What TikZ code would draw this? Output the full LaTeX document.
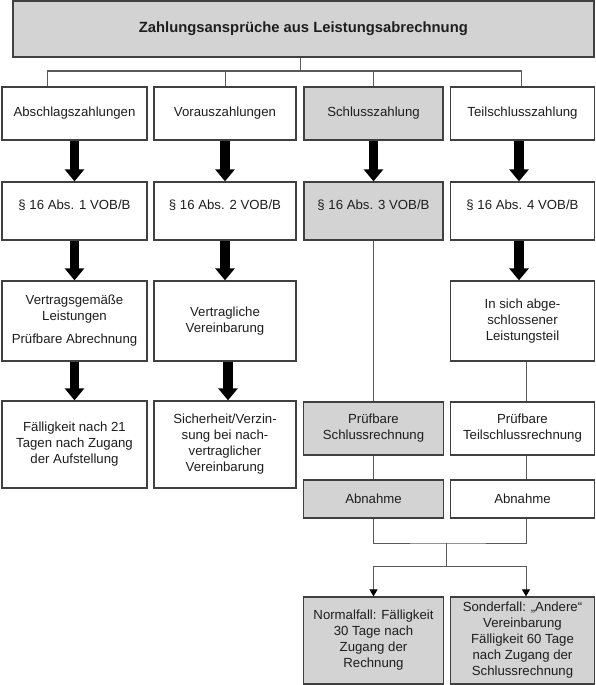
\documentclass[tikz,border=0pt]{standalone}
\usepackage{fontspec}
\setmainfont{Liberation Sans}
\usetikzlibrary{arrows.meta}
\definecolor{boxfill}{RGB}{211,211,212}
\definecolor{boxline}{RGB}{64,64,64}
\definecolor{connline}{RGB}{90,90,90}
\definecolor{txt}{RGB}{30,30,30}
\begin{document}
\begin{tikzpicture}[x=1pt,y=-1pt,
  box/.style={draw=boxline,line width=1.3pt,fill=white,inner sep=0pt,align=center,
    text=txt,font=\fontsize{13.2}{16}\selectfont},
  grey/.style={box,fill=boxfill},
  raised/.style={text height=9.6pt,text depth=12pt},
  conn/.style={draw=connline,line width=1pt},
  bigarrow/.style={draw=black,line width=9.5pt,-{Triangle[length=12pt,width=19pt]}},
  smallarrow/.style={conn,-{Triangle[length=7pt,width=8pt,color=black]}}
]
\useasboundingbox[fill=white] (0,0) rectangle (596,685);

% top
\node[grey,minimum width=581pt,minimum height=56pt,font=\fontsize{14.8}{17}\selectfont\bfseries] (top) at (303.4,29) {Zahlungsansprüche aus Leistungsabrechnung};

% row 1
\node[box,minimum width=145pt,minimum height=53pt] (r1c1) at (74.5,113.5) {Abschlagszahlungen};
\node[box,minimum width=142pt,minimum height=53pt] (r1c2) at (225,113.5) {Vorauszahlungen};
\node[grey,minimum width=139pt,minimum height=53pt] (r1c3) at (373.5,113.5) {Schlusszahlung};
\node[box,minimum width=144pt,minimum height=53pt] (r1c4) at (522.5,113.5) {Teilschlusszahlung};

% row 2
\node[box,raised,minimum width=145pt,minimum height=58pt] (r2c1) at (74.5,211) {§ 16 Abs. 1 VOB/B};
\node[box,raised,minimum width=142pt,minimum height=58pt] (r2c2) at (225,211) {§ 16 Abs. 2 VOB/B};
\node[grey,raised,minimum width=139pt,minimum height=58pt] (r2c3) at (373.5,211) {§ 16 Abs. 3 VOB/B};
\node[box,raised,minimum width=144pt,minimum height=58pt] (r2c4) at (522.5,211) {§ 16 Abs. 4 VOB/B};

% row 3
\node[box,minimum width=145pt,minimum height=80pt] (r3c1) at (74.5,321) {Vertragsgemäße\\Leistungen\\[7pt]Prüfbare Abrechnung};
\node[box,minimum width=142pt,minimum height=80pt] (r3c2) at (225,321) {Vertragliche\\Vereinbarung};
\node[box,minimum width=144pt,minimum height=80pt] (r3c4) at (522.5,321) {In sich abge-\\schlossener\\Leistungsteil};

% row 4
\node[box,minimum width=145pt,minimum height=87pt] (r4c1) at (74.5,444.5) {Fälligkeit nach 21\\Tagen nach Zugang\\der Aufstellung};
\node[box,minimum width=142pt,minimum height=87pt] (r4c2) at (225,444.5) {Sicherheit/Verzin-\\sung bei nach-\\vertraglicher\\Vereinbarung};
\node[grey,minimum width=140pt,minimum height=53pt] (p3) at (373.5,428.5) {Prüfbare\\Schlussrechnung};
\node[box,minimum width=144pt,minimum height=53pt] (p4) at (522.5,428.5) {Prüfbare\\Teilschlussrechnung};

% Abnahme
\node[grey,minimum width=140pt,minimum height=38pt] (a3) at (373.5,499) {Abnahme};
\node[box,minimum width=144pt,minimum height=38pt] (a4) at (522.5,499) {Abnahme};

% bottom
\node[grey,minimum width=140pt,minimum height=87pt] (b3) at (373.5,640.5) {Normalfall: Fälligkeit\\30 Tage nach\\Zugang der\\Rechnung};
\node[grey,minimum width=144pt,minimum height=87pt] (b4) at (522.5,640.5) {Sonderfall: „Andere“\\Vereinbarung\\Fälligkeit 60 Tage\\nach Zugang der\\Schlussrechnung};

% top tree
\coordinate (j0) at (300,71);
\draw[conn] (top.south -| j0) -- (j0);
\draw[conn] ([xshift=-26.8pt]r1c1.north) |- (j0) -| ([xshift=-1.5pt]r1c4.north);
\draw[conn] (r1c2.north) -- (r1c2.north |- j0);
\draw[conn] (r1c3.north) -- (r1c3.north |- j0);

% thick arrows
\draw[bigarrow] (r1c1.south) -- (r2c1.north);
\draw[bigarrow] (r2c1.south) -- (r3c1.north);
\draw[bigarrow] (r3c1.south) -- (r4c1.north);
\draw[bigarrow] (r1c2.south) -- (r2c2.north);
\draw[bigarrow] (r2c2.south) -- (r3c2.north);
\draw[bigarrow] ([xshift=3pt]r3c2.south) -- ([xshift=3pt]r4c2.north);
\draw[bigarrow] (r1c3.south) -- (r2c3.north);
\draw[bigarrow] ([xshift=-3.5pt]r1c4.south) -- ([xshift=-3.5pt]r2c4.north);
\draw[bigarrow] ([xshift=-3.5pt]r2c4.south) -- ([xshift=-3.5pt]r3c4.north);

% thin lines
\draw[conn] (r2c3.south) -- (p3.north);
\draw[conn] (p3.south) -- (a3.north);
\draw[conn] ([xshift=4pt]r3c4.south) -- ([xshift=4pt]p4.north);
\draw[conn] ([xshift=4pt]p4.south) -- ([xshift=4pt]a4.north);

\coordinate (j1) at (446,543);
\coordinate (j2) at (446,566);
\draw[conn] (a3.south) |- (j1) -| ([xshift=4pt]a4.south);
\draw[conn] (j1) -- (j2);
\draw[smallarrow] (j2) -| (b3.north);
\draw[smallarrow] (j2) -| ([xshift=3.5pt]b4.north);
\end{tikzpicture}
\end{document}
